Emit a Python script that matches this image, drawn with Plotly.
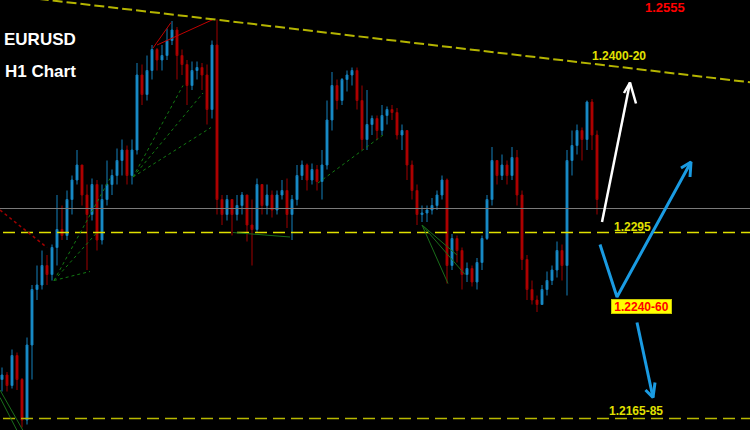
import plotly.graph_objects as go

# ---------------- data (EURUSD H1) ----------------
first_open = 1.2197
closes = [1.2200, 1.2193, 1.2213, 1.2197, 1.2170, 1.2220, 1.2257, 1.2260, 1.2273, 1.2267,
          1.2285, 1.2297, 1.2293, 1.2317, 1.2330, 1.2340, 1.2320, 1.2307, 1.2327, 1.2290,
          1.2317, 1.2327, 1.2333, 1.2343, 1.2350, 1.2333, 1.2350, 1.2400, 1.2387, 1.2403,
          1.2417, 1.2410, 1.2413, 1.2423, 1.2430, 1.2413, 1.2407, 1.2393, 1.2403, 1.2405,
          1.2400, 1.2377, 1.2420, 1.2317, 1.2307, 1.2317, 1.2307, 1.2313, 1.2320, 1.2300,
          1.2297, 1.2327, 1.2313, 1.2320, 1.2310, 1.2320, 1.2323, 1.2307, 1.2317, 1.2333,
          1.2340, 1.2330, 1.2337, 1.2329, 1.2340, 1.2370, 1.2393, 1.2383, 1.2397, 1.2400,
          1.2403, 1.2383, 1.2357, 1.2367, 1.2371, 1.2363, 1.2373, 1.2377, 1.2375, 1.2360,
          1.2363, 1.2340, 1.2323, 1.2307, 1.2308, 1.2310, 1.2313, 1.2320, 1.2330, 1.2273,
          1.2291, 1.2283, 1.2267, 1.2271, 1.2262, 1.2275, 1.2291, 1.2317, 1.2343, 1.2333,
          1.2340, 1.2333, 1.2345, 1.2320, 1.2277, 1.2257, 1.2250, 1.2247, 1.2257, 1.2263,
          1.2270, 1.2283, 1.2273, 1.2343, 1.2353, 1.2363, 1.2357, 1.2382, 1.2360, 1.2317]
highs = [1.2205, 1.2202, 1.2217, 1.2215, 1.2198, 1.2225, 1.2260, 1.2273, 1.2283, 1.2280,
         1.2287, 1.2320, 1.2313, 1.2323, 1.2333, 1.2350, 1.2340, 1.2327, 1.2331, 1.2330,
         1.2327, 1.2343, 1.2337, 1.2351, 1.2357, 1.2353, 1.2357, 1.2408, 1.2407, 1.2413,
         1.2420, 1.2418, 1.2420, 1.2431, 1.2436, 1.2432, 1.2417, 1.2410, 1.2409, 1.2409,
         1.2408, 1.2407, 1.2423, 1.2437, 1.2320, 1.2320, 1.2317, 1.2320, 1.2322, 1.2320,
         1.2317, 1.2331, 1.2327, 1.2327, 1.2323, 1.2323, 1.2330, 1.2331, 1.2320, 1.2340,
         1.2343, 1.2341, 1.2341, 1.2340, 1.2350, 1.2383, 1.2402, 1.2397, 1.2398, 1.2403,
         1.2405, 1.2405, 1.2393, 1.2390, 1.2373, 1.2373, 1.2380, 1.2379, 1.2380, 1.2378,
         1.2367, 1.2363, 1.2343, 1.2327, 1.2313, 1.2313, 1.2318, 1.2323, 1.2333, 1.2331,
         1.2294, 1.2293, 1.2285, 1.2275, 1.2273, 1.2278, 1.2293, 1.2320, 1.2352, 1.2343,
         1.2347, 1.2343, 1.2352, 1.2350, 1.2323, 1.2280, 1.2263, 1.2253, 1.2260, 1.2269,
         1.2273, 1.2289, 1.2287, 1.2350, 1.2363, 1.2367, 1.2365, 1.2383, 1.2384, 1.2363]
lows = [1.2189, 1.2189, 1.2191, 1.2190, 1.2165, 1.2167, 1.2197, 1.2250, 1.2257, 1.2260,
        1.2263, 1.2273, 1.2290, 1.2290, 1.2307, 1.2327, 1.2313, 1.2270, 1.2303, 1.2283,
        1.2287, 1.2313, 1.2320, 1.2327, 1.2333, 1.2327, 1.2327, 1.2347, 1.2380, 1.2383,
        1.2397, 1.2403, 1.2403, 1.2410, 1.2420, 1.2397, 1.2400, 1.2380, 1.2390, 1.2397,
        1.2390, 1.2367, 1.2371, 1.2307, 1.2300, 1.2303, 1.2293, 1.2303, 1.2307, 1.2289,
        1.2273, 1.2295, 1.2307, 1.2307, 1.2305, 1.2307, 1.2317, 1.2298, 1.2290, 1.2313,
        1.2330, 1.2323, 1.2327, 1.2323, 1.2317, 1.2337, 1.2363, 1.2377, 1.2380, 1.2389,
        1.2393, 1.2377, 1.2350, 1.2350, 1.2360, 1.2357, 1.2360, 1.2367, 1.2370, 1.2357,
        1.2350, 1.2330, 1.2317, 1.2300, 1.2302, 1.2302, 1.2307, 1.2310, 1.2317, 1.2261,
        1.2270, 1.2275, 1.2257, 1.2262, 1.2259, 1.2257, 1.2270, 1.2290, 1.2313, 1.2327,
        1.2330, 1.2327, 1.2330, 1.2313, 1.2270, 1.2250, 1.2247, 1.2242, 1.2247, 1.2253,
        1.2260, 1.2265, 1.2263, 1.2253, 1.2333, 1.2347, 1.2343, 1.2350, 1.2350, 1.2307]
opens = [first_open] + closes[:-1]
bars = list(range(len(closes)))

# key levels
level_resist_trend_x = [-1.0, 150.0]
level_resist_trend_y = [1.2454, 1.2395]
level_grey = 1.2311
level_support = 1.2295
level_target = 1.2171

# drawn studies (bar index, price)
red_lines = [([30.2, 33.8], [1.2418, 1.2435]), ([31.0, 42.2], [1.2420, 1.2437])]
red_dotted = ([-0.4, 9.0], [1.2310, 1.2285])
green_dotted = [([10.4, 17.6], [1.2263, 1.2269]),
                ([10.4, 21.6], [1.2263, 1.2331]),
                ([10.4, 19.0], [1.2263, 1.2295]),
                ([26.2, 36.2], [1.2332, 1.2393]),
                ([26.2, 40.2], [1.2332, 1.2388]),
                ([26.2, 41.8], [1.2332, 1.2365]),
                ([63.2, 76.2], [1.2328, 1.2360])]
green_solid = [([46.2, 57.6], [1.2295, 1.2292]),
               ([84.0, 89.2], [1.2300, 1.2261]),
               ([84.0, 91.0], [1.2300, 1.2280]),
               ([84.0, 92.6], [1.2300, 1.2267]),
               ([-0.4, 4.2], [1.2190, 1.2163]),
               ([-0.4, 3.0], [1.2185, 1.2163])]

# projected paths
white_path_x = [120.0, 125.6, None, 124.4, 125.6, 126.8]
white_path_y = [1.2302, 1.2395, None, 1.2388, 1.2395, 1.2381]
blue_v_x = [119.6, 123.0, 137.8, None, 135.8, 137.8, 137.6]
blue_v_y = [1.2287, 1.2252, 1.2342, None, 1.2338, 1.2342, 1.2332]
blue_down_x = [127.0, 130.2, None, 128.7, 130.2, 130.6]
blue_down_y = [1.2235, 1.2185, None, 1.2190, 1.2185, 1.2195]

label_texts = ["1.2555", "1.2400-20", "1.2295", "1.2240-60", "1.2165-85"]
label_x = [132.6, 123.4, 126.0, 127.8, 126.8]
label_y = [1.2445, 1.2413, 1.2299, 1.2246, 1.2176]

# ---------------- figure ----------------
BLUE = "#1d9ad8"
RED = "#c40000"
YEL = "#e0e000"
FONT = "Liberation Sans, Arial, sans-serif"

fig = go.Figure()

# horizontal levels
fig.add_trace(go.Scatter(x=[-1, 150], y=[level_grey, level_grey], mode="lines",
                         line=dict(color="#7a7a7a", width=1.2), hoverinfo="skip"))
fig.add_trace(go.Scatter(x=[0.2, 150], y=[level_support, level_support], mode="lines",
                         line=dict(color=YEL, width=1.5, dash="12px,6px"), hoverinfo="skip"))
fig.add_trace(go.Scatter(x=[0.2, 150], y=[level_target, level_target], mode="lines",
                         line=dict(color="#b8b800", width=1.5, dash="12px,6px"), hoverinfo="skip"))

# green / red study lines
for gx, gy in green_dotted:
    fig.add_trace(go.Scatter(x=gx, y=gy, mode="lines", line=dict(color="#137a13", width=1, dash="dot"),
                             hoverinfo="skip"))
for gx, gy in green_solid:
    fig.add_trace(go.Scatter(x=gx, y=gy, mode="lines", line=dict(color="#1a6e1a", width=1),
                             hoverinfo="skip"))
fig.add_trace(go.Scatter(x=red_dotted[0], y=red_dotted[1], mode="lines",
                         line=dict(color="#a00000", width=1.5, dash="dot"), hoverinfo="skip"))

# candles
fig.add_trace(go.Candlestick(
    x=bars, open=opens, high=highs, low=lows, close=closes,
    increasing=dict(line=dict(color="#1580bb", width=1), fillcolor=BLUE),
    decreasing=dict(line=dict(color="#a00000", width=1), fillcolor=RED),
    whiskerwidth=0, hoverinfo="skip"))

for rx, ry in red_lines:
    fig.add_trace(go.Scatter(x=rx, y=ry, mode="lines", line=dict(color="#c00000", width=1),
                             hoverinfo="skip"))

# descending trendline
fig.add_trace(go.Scatter(x=level_resist_trend_x, y=level_resist_trend_y, mode="lines",
                         line=dict(color="#b4b400", width=2, dash="10px,4px"), hoverinfo="skip"))

# projections
fig.add_trace(go.Scatter(x=white_path_x, y=white_path_y, mode="lines",
                         line=dict(color="#ffffff", width=2.5), hoverinfo="skip"))
fig.add_trace(go.Scatter(x=blue_v_x, y=blue_v_y, mode="lines",
                         line=dict(color="#1a9be2", width=3), hoverinfo="skip"))
fig.add_trace(go.Scatter(x=blue_down_x, y=blue_down_y, mode="lines",
                         line=dict(color="#1a9be2", width=3), hoverinfo="skip"))

annotations = [
    dict(text="EURUSD", x=2 / 750, y=1 - 39.5 / 430, xref="paper", yref="paper", xanchor="left",
         yanchor="middle", showarrow=False, font=dict(family=FONT, size=17, color="#ffffff", weight="bold")),
    dict(text="H1 Chart", x=3 / 750, y=1 - 71 / 430, xref="paper", yref="paper", xanchor="left",
         yanchor="middle", showarrow=False, font=dict(family=FONT, size=17, color="#ffffff", weight="bold")),
]
label_colors = ["#ff0000", YEL, YEL, "#ff0000", YEL]
label_sizes = [13, 12, 12, 12, 12]
for i, t in enumerate(label_texts):
    a = dict(text=t, x=label_x[i], y=label_y[i], xref="x", yref="y", xanchor="center", yanchor="middle",
             showarrow=False, font=dict(family=FONT, size=label_sizes[i], color=label_colors[i], weight="bold"))
    if t == "1.2240-60":
        a.update(bgcolor="#ffff00", bordercolor="#c8c800", borderwidth=1, borderpad=0, width=59, height=13)
    annotations.append(a)

fig.update_layout(
    width=750, height=430,
    margin=dict(l=0, r=0, t=0, b=0),
    paper_bgcolor="#000000", plot_bgcolor="#000000",
    showlegend=False,
    boxgap=0.45,
    xaxis=dict(range=[-0.4, 149.6], visible=False, rangeslider=dict(visible=False), fixedrange=True),
    yaxis=dict(range=[1.2450 - 430 / 15000, 1.2450], visible=False, fixedrange=True),
    annotations=annotations,
)

fig.write_html("out.html", config={"displayModeBar": False},
               post_script="document.body.style.margin='0';document.body.style.overflow='hidden';")
